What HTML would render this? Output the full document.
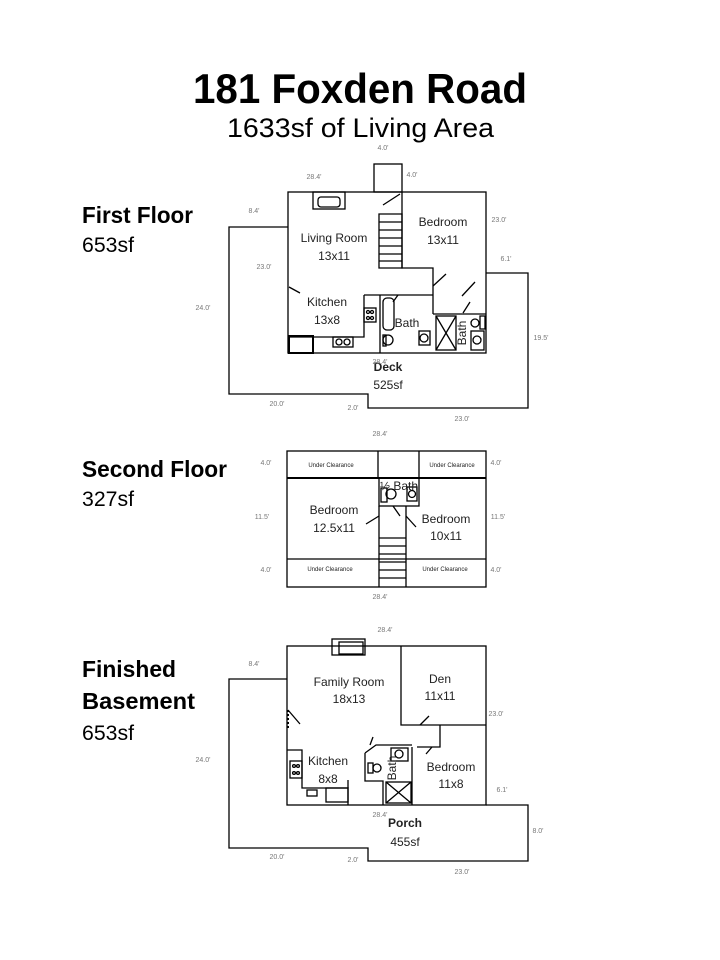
<!DOCTYPE html>
<html><head><meta charset="utf-8"><style>
html,body{margin:0;padding:0;background:#fff;}
svg{display:block;}
.t{font-family:"Liberation Sans",sans-serif;fill:#000;}
.d{font-family:"Liberation Sans",sans-serif;font-size:7px;fill:#777;text-anchor:middle;}
.r{font-family:"Liberation Sans",sans-serif;font-size:12px;fill:#222;text-anchor:middle;}
.u{font-family:"Liberation Sans",sans-serif;font-size:6px;fill:#222;text-anchor:middle;}
</style></head><body>
<svg width="720" height="960" viewBox="0 0 720 960" xmlns="http://www.w3.org/2000/svg">
<rect width="720" height="960" fill="#fff"/>
<text class="t" x="193" y="103" font-size="42" font-weight="bold" textLength="334" lengthAdjust="spacingAndGlyphs">181 Foxden Road</text>
<text class="t" x="227" y="137" font-size="27" textLength="267" lengthAdjust="spacingAndGlyphs">1633sf of Living Area</text>
<text class="t" x="82" y="223" font-size="23" font-weight="bold" textLength="111" lengthAdjust="spacingAndGlyphs">First Floor</text>
<text class="t" x="82" y="252" font-size="21" textLength="52" lengthAdjust="spacingAndGlyphs">653sf</text>
<text class="t" x="82" y="477" font-size="23" font-weight="bold" textLength="145" lengthAdjust="spacingAndGlyphs">Second Floor</text>
<text class="t" x="82" y="506" font-size="21" textLength="52" lengthAdjust="spacingAndGlyphs">327sf</text>
<text class="t" x="82" y="677" font-size="23" font-weight="bold" textLength="94" lengthAdjust="spacingAndGlyphs">Finished</text>
<text class="t" x="82" y="709" font-size="23" font-weight="bold" textLength="113" lengthAdjust="spacingAndGlyphs">Basement</text>
<text class="t" x="82" y="740" font-size="21" textLength="52" lengthAdjust="spacingAndGlyphs">653sf</text>

<g fill="none" stroke="#000" stroke-width="1.3">
<!-- FIRST FLOOR -->
<path d="M288 227 H229 V394 H368 V408 H528 V273 H486"/>
<rect x="288" y="192" width="198" height="161"/>
<rect x="374" y="164" width="28" height="28"/>
<rect x="313" y="192" width="32" height="17"/>
<rect x="318" y="197" width="22" height="10" rx="3"/>
<path d="M379 214 H402 V268 H379 Z M379 222H402 M379 230H402 M379 238H402 M379 246H402 M379 254H402 M379 261H402"/>
<path d="M402 192 V268 H433 V314 M364 295 H433 M364 295 V337 H288 M380 295 V353 M433 314 H486"/>
<path d="M383 205 L400 194 M433 286 L446 274 M475 282 L462 296 M463 313 L470 302 M289 287 L300 293 M393 302 L398 295"/>
<rect x="383" y="298" width="11" height="32" rx="4"/>
<rect x="364" y="308" width="12" height="14"/>
<circle cx="368" cy="312" r="1.5"/><circle cx="372" cy="312" r="1.5"/><circle cx="368" cy="318" r="1.5"/><circle cx="372" cy="318" r="1.5"/>
<rect x="333" y="337" width="20" height="10"/>
<circle cx="339" cy="342" r="3"/><circle cx="347" cy="342" r="3"/>
<rect x="289" y="336" width="24" height="17" stroke-width="2"/>
<rect x="419" y="331" width="11" height="14"/><circle cx="424" cy="338" r="4"/>
<circle cx="388" cy="340" r="5"/><rect x="383" y="335" width="3" height="11"/>
<rect x="436" y="316" width="20" height="34"/><path d="M436 316 L456 350 M456 316 L436 350"/>
<rect x="471" y="331" width="13" height="19"/><circle cx="477" cy="340" r="4"/>
<circle cx="475" cy="323" r="4"/><rect x="480" y="316" width="5" height="13"/>

<!-- SECOND FLOOR -->
<rect x="287" y="451" width="199" height="136"/>
<path d="M287 478 H486" stroke-width="2"/>
<path d="M378 451 V478 M419 451 V478 M287 559 H486"/>
<rect x="379" y="478" width="40" height="28"/>
<path d="M379 506 V587 M406 506 V587 M379 538H406 M379 546H406 M379 554H406 M379 562H406 M379 570H406 M379 578H406"/>
<rect x="381" y="488" width="6" height="14"/><circle cx="391" cy="494" r="5"/>
<rect x="407" y="487" width="10" height="14"/><circle cx="412" cy="494" r="3.5"/>
<path d="M393 506 L400 516 M366 524 L379 516 M406 516 L416 527"/>

<!-- BASEMENT -->
<path d="M287 679 H229 V848 H368 V861 H528 V805 H486"/>
<rect x="287" y="646" width="199" height="159"/>
<rect x="332" y="639" width="33" height="16"/>
<rect x="339" y="642" width="24" height="12"/>
<path d="M401 646 V725 H486 M401 725 H440 V747 H417 M412 747 V805"/>
<path d="M365 753 V781 H383 V805 M365 753 L376 745 H412"/>
<path d="M287 750 H302 V788 H348 V805"/>
<path d="M348 788 V780"/>
<rect x="326" y="788" width="22" height="14"/>
<rect x="307" y="790" width="10" height="6"/>
<rect x="290" y="761" width="12" height="17"/>
<circle cx="294" cy="766" r="1.4"/><circle cx="298" cy="766" r="1.4"/><circle cx="294" cy="773" r="1.4"/><circle cx="298" cy="773" r="1.4"/>
<rect x="386" y="782" width="25" height="21"/><path d="M386 782 L411 803 M411 782 L386 803"/>
<rect x="391" y="748" width="17" height="13"/><circle cx="399" cy="754" r="4"/>
<rect x="368" y="763" width="5" height="10"/><circle cx="377" cy="768" r="4"/>
<path d="M420 725 L429 716 M432 747 L426 754 M288 710 L300 724 M370 745 L373 737"/>
<path d="M288 710 V730" stroke-dasharray="2 2" stroke-width="2"/>
</g>

<!-- Labels first floor -->
<text class="r" x="334" y="242">Living Room</text>
<text class="r" x="334" y="260">13x11</text>
<text class="r" x="443" y="226">Bedroom</text>
<text class="r" x="443" y="244">13x11</text>
<text class="r" x="327" y="306">Kitchen</text>
<text class="r" x="327" y="324">13x8</text>
<text class="r" x="407" y="327">Bath</text>
<text class="r" transform="translate(466,333) rotate(-90)">Bath</text>
<text class="r" x="388" y="371" font-weight="bold">Deck</text>
<text class="r" x="388" y="389">525sf</text>
<text class="d" x="383" y="150">4.0'</text>
<text class="d" x="314" y="179">28.4'</text>
<text class="d" x="412" y="177">4.0'</text>
<text class="d" x="254" y="213">8.4'</text>
<text class="d" x="499" y="222">23.0'</text>
<text class="d" x="506" y="261">6.1'</text>
<text class="d" x="264" y="269">23.0'</text>
<text class="d" x="203" y="310">24.0'</text>
<text class="d" x="541" y="340">19.5'</text>
<text class="d" x="380" y="364">28.4'</text>
<text class="d" x="277" y="406">20.0'</text>
<text class="d" x="353" y="410">2.0'</text>
<text class="d" x="462" y="421">23.0'</text>
<text class="d" x="380" y="436">28.4'</text>

<!-- Labels second floor -->
<text class="u" x="331" y="467">Under Clearance</text>
<text class="u" x="452" y="467">Under Clearance</text>
<text class="u" x="330" y="571">Under Clearance</text>
<text class="u" x="445" y="571">Under Clearance</text>
<text class="r" x="334" y="514">Bedroom</text>
<text class="r" x="334" y="532">12.5x11</text>
<text class="r" x="446" y="523">Bedroom</text>
<text class="r" x="446" y="540">10x11</text>
<text class="r" x="399" y="490">½ Bath</text>
<text class="d" x="266" y="465">4.0'</text>
<text class="d" x="496" y="465">4.0'</text>
<text class="d" x="262" y="519">11.5'</text>
<text class="d" x="498" y="519">11.5'</text>
<text class="d" x="266" y="572">4.0'</text>
<text class="d" x="496" y="572">4.0'</text>
<text class="d" x="380" y="599">28.4'</text>

<!-- Labels basement -->
<text class="r" x="349" y="686">Family Room</text>
<text class="r" x="349" y="703">18x13</text>
<text class="r" x="440" y="683">Den</text>
<text class="r" x="440" y="700">11x11</text>
<text class="r" x="328" y="765">Kitchen</text>
<text class="r" x="328" y="783">8x8</text>
<text class="r" x="451" y="771">Bedroom</text>
<text class="r" x="451" y="788">11x8</text>
<text class="r" transform="translate(396,768) rotate(-90)">Bath</text>
<text class="r" x="405" y="827" font-weight="bold">Porch</text>
<text class="r" x="405" y="846">455sf</text>
<text class="d" x="385" y="632">28.4'</text>
<text class="d" x="254" y="666">8.4'</text>
<text class="d" x="496" y="716">23.0'</text>
<text class="d" x="203" y="762">24.0'</text>
<text class="d" x="502" y="792">6.1'</text>
<text class="d" x="380" y="817">28.4'</text>
<text class="d" x="538" y="833">8.0'</text>
<text class="d" x="277" y="859">20.0'</text>
<text class="d" x="353" y="862">2.0'</text>
<text class="d" x="462" y="874">23.0'</text>
</svg>
</body></html>
